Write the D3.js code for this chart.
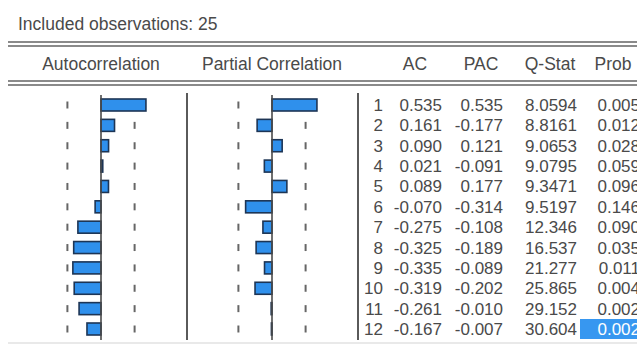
<!DOCTYPE html>
<html>
<head>
<meta charset="utf-8">
<script src="https://cdn.jsdelivr.net/npm/d3@7/dist/d3.min.js"></script>
<style>
  html, body { margin: 0; padding: 0; background: #fff; }
  svg { display: block; }
  text { font-family: "Liberation Sans", Arial, sans-serif; fill: #4a4a4a; }
</style>
</head>
<body>
<svg id="chart" width="637" height="345"></svg>
<script>
// Correlogram of a series with 25 observations
const observations = 25;
const lags  = [1, 2, 3, 4, 5, 6, 7, 8, 9, 10, 11, 12];
const ac    = [0.535, 0.161, 0.090, 0.021, 0.089, -0.070, -0.275, -0.325, -0.335, -0.319, -0.261, -0.167];
const pac   = [0.535, -0.177, 0.121, -0.091, 0.177, -0.314, -0.108, -0.189, -0.089, -0.202, -0.010, -0.007];
const qstat = [8.0594, 8.8161, 9.0653, 9.0795, 9.3471, 9.5197, 12.346, 16.537, 21.277, 25.865, 29.152, 30.604];
const prob  = [0.005, 0.012, 0.028, 0.059, 0.096, 0.146, 0.090, 0.035, 0.011, 0.004, 0.002, 0.002];
const band  = 0.4;   // approximate 2 standard error bounds
const headers = ["Autocorrelation", "Partial Correlation", "AC", "PAC", "Q-Stat", "Prob"];
const highlightLag = 12;

const svg = d3.select("#chart");
const loc = d3.formatLocale({ decimal: ".", thousands: ",", grouping: [3], currency: ["", ""], minus: "-" });
const f3 = loc.format(".3f");
const f5 = loc.format(".5r");

// Row positions
const y = d3.scalePoint().domain(lags).range([105, 329]);
const barH = 12;

// Two bar panels, each with its own zero axis
const xAC  = d3.scaleLinear().domain([-1, 1]).range([17, 185]);
const xPAC = d3.scaleLinear().domain([-1, 1]).range([188, 356]);

// Title
svg.append("text").attr("x", 18).attr("y", 30).attr("font-size", 17.5).text("Included observations: " + observations);

// Double rules
function doubleRule(y0) {
  svg.append("line").attr("x1", 8).attr("x2", 637).attr("y1", y0).attr("y2", y0).attr("stroke", "#8a8a8a").attr("stroke-width", 2);
  svg.append("line").attr("x1", 8).attr("x2", 637).attr("y1", y0 + 4).attr("y2", y0 + 4).attr("stroke", "#8a8a8a").attr("stroke-width", 2);
}
doubleRule(42);
doubleRule(81);
svg.append("line").attr("x1", 8).attr("x2", 637).attr("y1", 343).attr("y2", 343).attr("stroke", "#e2e2e2").attr("stroke-width", 1.5);

// Header labels
const headerX = [xAC(0), xPAC(0), 415, 481, 550, 613];
svg.selectAll("text.hdr").data(headers).join("text")
  .attr("class", "hdr")
  .attr("x", (d, i) => headerX[i]).attr("y", 70)
  .attr("text-anchor", "middle").attr("font-size", 17.5)
  .text(d => d);

// Column separators
[187, 358].forEach(x => {
  svg.append("line").attr("x1", x).attr("x2", x).attr("y1", 93).attr("y2", 340)
    .attr("stroke", "#5a5a5a").attr("stroke-width", 2);
});

function panel(xs, values) {
  const g = svg.append("g");
  // confidence band marks, one short dash per row
  [-band, band].forEach(b => {
    g.selectAll(null).data(lags).join("line")
      .attr("x1", xs(b)).attr("x2", xs(b))
      .attr("y1", d => y(d) - 3.5).attr("y2", d => y(d) + 3.5)
      .attr("stroke", "#666").attr("stroke-width", 2);
  });
  // bars
  g.selectAll("rect").data(values).join("rect")
    .attr("x", d => Math.min(xs(0), xs(d)))
    .attr("width", d => Math.abs(xs(d) - xs(0)))
    .attr("y", (d, i) => y(lags[i]) - barH / 2)
    .attr("height", barH)
    .attr("fill", "#2f90ec").attr("stroke", "#1d3555").attr("stroke-width", 1.6);
  // zero axis
  g.append("line").attr("x1", xs(0)).attr("x2", xs(0)).attr("y1", 95).attr("y2", 340)
    .attr("stroke", "#4a4a4a").attr("stroke-width", 1.6);
}
panel(xAC, ac);
panel(xPAC, pac);

// Highlighted cell
svg.append("rect").attr("x", 580).attr("width", 57)
  .attr("y", y(highlightLag) - 10).attr("height", 20).attr("fill", "#3797f0");

// Table of values, right aligned
const cols = [
  { right: 383, vals: lags.map(String) },
  { right: 442, vals: ac.map(f3) },
  { right: 503, vals: pac.map(f3) },
  { right: 577, vals: qstat.map(f5) },
  { right: 640, vals: prob.map(f3) }
];
cols.forEach((c, ci) => {
  svg.selectAll(null).data(c.vals).join("text")
    .attr("x", c.right).attr("y", (d, i) => y(lags[i]) + 6)
    .attr("text-anchor", "end").attr("font-size", 17)
    .style("fill", (d, i) => (ci === 4 && lags[i] === highlightLag) ? "#ffffff" : null)
    .text(d => d);
});
</script>
</body>
</html>
